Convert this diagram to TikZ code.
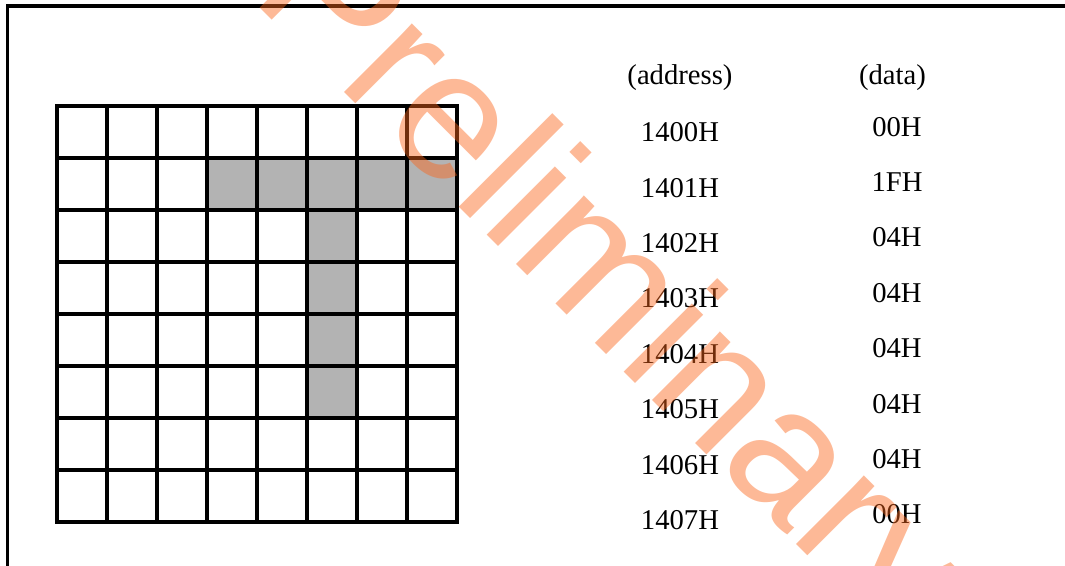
\documentclass[tikz,border=0pt]{standalone}
\usepackage{fontspec}
\setmainfont{Liberation Serif}
\newfontfamily\wmfont{Liberation Sans}
\usetikzlibrary{positioning}
\definecolor{cellgray}{RGB}{179,179,179}
\definecolor{wmorange}{RGB}{250,100,25}

\begin{document}
\begin{tikzpicture}[
  x=0.75pt, y=-0.75pt,
  gl/.style={line width=2.6pt, black, line cap=rect},
  cell/.style={fill=cellgray, draw=none},
  lbl/.style={font=\fontsize{21.5}{24}\selectfont, anchor=base, inner sep=0pt},
  wm/.style={font=\wmfont\fontsize{137}{145}\selectfont, text=wmorange,
             opacity=0.45, anchor=base west, inner sep=0pt, rotate=-45}
]
  \useasboundingbox (0,0) rectangle (1065,566);
  \begin{scope}
    \clip (0,0) rectangle (1065,566);
    % outer frame, only left and top edges inside the page
    \draw[gl] (7.5,700) -- (7.5,6) -- (1200,6);

    % shaded pixels of the character
    \foreach \r/\c in {1/3,1/4,1/5,1/6,1/7,2/5,3/5,4/5,5/5}
      \fill[cell] (57+50*\c,106+52*\r) rectangle ++(50,52);
    % 8x8 grid
    \foreach \i in {0,...,8} {
      \draw[gl] (57+50*\i,106) -- (57+50*\i,522);
      \draw[gl] (57,106+52*\i) -- (457,106+52*\i);
    }

    % address / data table
    \node[lbl] (haddr) at (680,85) {(address)};
    \node[lbl] (hdata) at (892.5,85) {(data)};
    \foreach \k/\v in {0/00H,1/1FH,2/04H,3/04H,4/04H,5/04H,6/04H,7/00H} {
      \node[lbl] (a\k) at (680,141.7+55.4*\k) {140\k H};
      \node[lbl] (d\k) at (897,136.2+55.4*\k) {\v};
    }

    % watermark
    \node[wm] (stamp) at (249,-3) {Preliminary};
  \end{scope}
\end{tikzpicture}
\end{document}
